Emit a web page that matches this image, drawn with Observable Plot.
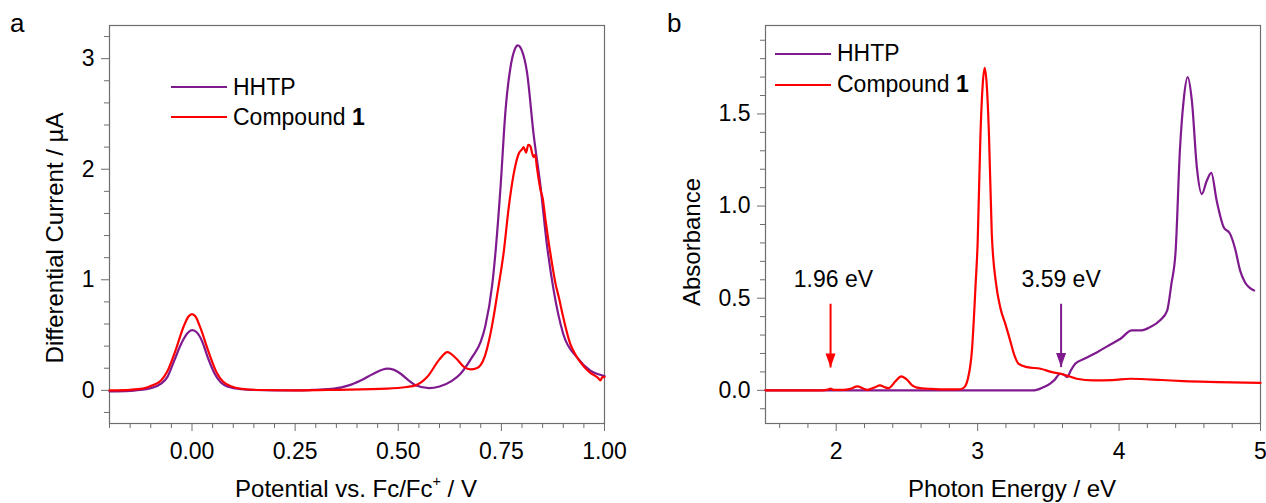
<!DOCTYPE html>
<html>
<head>
<meta charset="utf-8">
<script src="https://cdn.jsdelivr.net/npm/d3@7"></script>
<script src="https://cdn.jsdelivr.net/npm/@observablehq/plot@0.6"></script>
<style>
  body { margin: 0; background: #fff; font-family: "Liberation Sans", Arial, sans-serif; }
  #wrap { position: relative; width: 1266px; height: 503px; overflow: hidden; background: #fff; }
  .abs { position: absolute; white-space: nowrap; color: #000; }
  .panel { position: absolute; top: 0; }
  .title { font-size: 24px; line-height: 24px; }
  .ytitle { transform: translate(-50%, -50%) rotate(-90deg); }
  .xtitle { transform: translateX(-50%); }
  .plabel { font-size: 26px; line-height: 26px; }
  .leg { font-size: 23px; }
  .row { display: flex; align-items: center; height: 30px; }
  .swatch { display: inline-block; width: 56px; height: 2px; margin-right: 6px; }
  sup { font-size: 60%; vertical-align: 0; position: relative; top: -0.75em; }
</style>
</head>
<body>
<div id="wrap"></div>
<script>
// ---------- Panel a: differential pulse voltammetry ----------
const cvPotentialHHTP = [-0.20,-0.15,-0.12,-0.10,-0.075,-0.06,-0.043,-0.025,-0.01,0.00,0.01,0.025,0.038,0.055,0.07,0.09,0.12,0.15,0.20,0.264,0.30,0.344,0.38,0.409,0.44,0.473,0.49,0.506,0.525,0.542,0.574,0.60,0.63,0.651,0.679,0.70,0.711,0.728,0.736,0.748,0.76,0.772,0.782,0.79,0.80,0.812,0.828,0.845,0.86,0.877,0.90,0.933,0.965,1.00];
const cvCurrentHHTP   = [-0.01,-0.005,0.005,0.02,0.06,0.12,0.27,0.43,0.52,0.545,0.53,0.44,0.30,0.15,0.07,0.03,0.01,0.003,0.0,0.0,0.005,0.015,0.045,0.09,0.15,0.196,0.185,0.15,0.09,0.045,0.02,0.035,0.085,0.15,0.30,0.44,0.58,0.96,1.26,1.84,2.53,2.92,3.08,3.12,3.07,2.88,2.32,1.84,1.33,0.90,0.51,0.30,0.18,0.13];

const cvPotential1 = [-0.20,-0.15,-0.12,-0.10,-0.075,-0.06,-0.04,-0.02,-0.008,0.00,0.008,0.02,0.04,0.06,0.075,0.10,0.13,0.17,0.25,0.35,0.473,0.52,0.542,0.57,0.60,0.619,0.64,0.66,0.675,0.69,0.70,0.71,0.72,0.73,0.74,0.756,0.768,0.78,0.792,0.80,0.804,0.81,0.815,0.82,0.825,0.828,0.832,0.836,0.845,0.85,0.857,0.865,0.873,0.881,0.89,0.90,0.917,0.93,0.949,0.965,0.985,0.99,0.995,1.00];
const cvCurrent1   = [0.0,0.005,0.015,0.04,0.09,0.17,0.36,0.58,0.67,0.69,0.67,0.57,0.35,0.16,0.08,0.03,0.01,0.003,0.0,0.005,0.015,0.03,0.045,0.12,0.28,0.346,0.29,0.21,0.19,0.20,0.23,0.31,0.45,0.64,0.87,1.26,1.66,1.96,2.14,2.18,2.20,2.15,2.22,2.21,2.14,2.11,2.13,2.02,1.81,1.74,1.54,1.33,1.14,0.97,0.83,0.66,0.42,0.32,0.22,0.16,0.11,0.09,0.12,0.12];

const cvMajorX = [0, 0.25, 0.5, 0.75, 1.0];
const cvMinorX = [-0.2,-0.15,-0.1,-0.05,0.05,0.1,0.15,0.2,0.3,0.35,0.4,0.45,0.55,0.6,0.65,0.7,0.8,0.85,0.9,0.95];
const cvMajorY = [0, 1, 2, 3];
const cvMinorY = [-0.2,0.2,0.4,0.6,0.8,1.2,1.4,1.6,1.8,2.2,2.4,2.6,2.8,3.2];

// ---------- Panel b: UV-vis absorbance ----------
const uvEnergyHHTP = [1.5,3.40,3.468,3.51,3.54,3.586,3.61,3.633,3.66,3.69,3.75,3.845,3.93,4.01,4.09,4.16,4.22,4.29,4.34,4.37,4.40,4.43,4.456,4.485,4.515,4.55,4.585,4.62,4.652,4.69,4.74,4.785,4.82,4.856,4.89,4.955];
const uvAbsHHTP    = [0.0,0.0,0.018,0.035,0.054,0.09,0.085,0.072,0.11,0.144,0.17,0.207,0.245,0.28,0.325,0.325,0.343,0.38,0.433,0.578,0.758,1.30,1.57,1.70,1.57,1.21,1.065,1.137,1.18,1.03,0.885,0.849,0.77,0.65,0.587,0.542];

const uvEnergy1 = [1.5,1.90,1.94,1.96,1.98,2.05,2.10,2.15,2.19,2.22,2.27,2.31,2.34,2.37,2.42,2.46,2.50,2.54,2.57,2.67,2.80,2.88,2.91,2.93,2.96,2.986,3.00,3.02,3.035,3.05,3.065,3.08,3.10,3.13,3.16,3.20,3.23,3.26,3.29,3.35,3.445,3.52,3.586,3.65,3.70,3.82,3.95,4.08,4.30,4.456,4.70,5.0];
const uvAbs1    = [0.0,0.0,0.004,0.009,0.003,0.002,0.008,0.022,0.01,0.003,0.015,0.027,0.018,0.012,0.05,0.076,0.058,0.025,0.015,0.008,0.005,0.006,0.02,0.06,0.22,0.58,0.80,1.39,1.65,1.75,1.65,1.39,0.85,0.58,0.45,0.35,0.27,0.19,0.144,0.126,0.117,0.10,0.09,0.075,0.063,0.054,0.055,0.063,0.056,0.05,0.045,0.04];

const uvMajorX = [2, 3, 4, 5];
const uvMinorX = [1.6,1.8,2.2,2.4,2.6,2.8,3.2,3.4,3.6,3.8,4.2,4.4,4.6,4.8];
const uvMajorY = [0, 0.5, 1.0, 1.5];
const uvMinorY = [-0.1,0.1,0.2,0.3,0.4,0.6,0.7,0.8,0.9,1.1,1.2,1.3,1.4,1.6,1.7,1.8,1.9];

// annotations (panel b)
const annLabels = ["1.96 eV", "3.59 eV"];
const annLabelX = [1.98, 3.59];
const annLabelY = [0.563, 0.563];
const arrowX    = [1.96, 3.59];
const arrowTop  = [0.47, 0.47];
const arrowTip  = [0.124, 0.126];

const seriesNames = ["HHTP", "Compound"];
const purple = "#7f1a8e";
const red = "#ff0000";
const axisCol = "#6e6e6e";

const baseStyle = {background: "transparent", fontFamily: "'Liberation Sans', Arial, sans-serif", fontSize: "23px", color: "black", overflow: "visible"};

function axesMarks(majX, minX, majY, minY, fx, fy) {
  return [
    Plot.axisX(minX, {tickSize: 5, tickFormat: () => "", stroke: axisCol, label: null}),
    Plot.axisX(majX, {tickSize: 8, tickPadding: 11, tickFormat: fx, stroke: axisCol, fill: "black", fontSize: 23, label: null}),
    Plot.axisY(minY, {tickSize: 5, tickFormat: () => "", stroke: axisCol, label: null}),
    Plot.axisY(majY, {tickSize: 8, tickPadding: 7, tickFormat: fy, stroke: axisCol, fill: "black", fontSize: 23, label: null}),
    Plot.frame({stroke: axisCol, strokeWidth: 1.2})
  ];
}

const plotA = Plot.plot({
  width: 640, height: 503,
  marginLeft: 109, marginRight: 36, marginTop: 25, marginBottom: 80,
  x: {domain: [-0.2, 1.0]},
  y: {domain: [-0.3, 3.3]},
  style: baseStyle,
  marks: [
    ...axesMarks(cvMajorX, cvMinorX, cvMajorY, cvMinorY, d3.format(".2f"), d3.format("d")),
    Plot.line(cvPotentialHHTP, {x: cvPotentialHHTP, y: cvCurrentHHTP, stroke: purple, strokeWidth: 2.2, curve: "monotone-x"}),
    Plot.line(cvPotential1, {x: cvPotential1, y: cvCurrent1, stroke: red, strokeWidth: 2.2, curve: "monotone-x"})
  ]
});

const arrowHead = {draw(ctx) { ctx.moveTo(0, 0); ctx.lineTo(-5, -14); ctx.lineTo(5, -14); ctx.closePath(); }};
const arrowCols = [red, purple];
const arrowMarks = arrowX.flatMap((ax, i) => [
  Plot.link([ax], {x1: [ax], x2: [ax], y1: [arrowTop[i]], y2: [arrowTip[i]], stroke: arrowCols[i], strokeWidth: 2}),
  Plot.dot([ax], {x: [ax], y: [arrowTip[i]], symbol: arrowHead, fill: arrowCols[i], stroke: "none", r: 5})
]);

const plotB = Plot.plot({
  width: 626, height: 503,
  marginLeft: 125, marginRight: 6, marginTop: 25, marginBottom: 80,
  x: {domain: [1.5, 5]},
  y: {domain: [-0.18, 1.98]},
  style: baseStyle,
  marks: [
    ...axesMarks(uvMajorX, uvMinorX, uvMajorY, uvMinorY, d3.format("d"), d3.format(".1f")),
    Plot.line(uvEnergyHHTP, {x: uvEnergyHHTP, y: uvAbsHHTP, stroke: purple, strokeWidth: 2.2, curve: "monotone-x"}),
    Plot.line(uvEnergy1, {x: uvEnergy1, y: uvAbs1, stroke: red, strokeWidth: 2.2, curve: "monotone-x"}),
    ...arrowMarks,
    Plot.text(annLabels, {x: annLabelX, y: annLabelY, text: annLabels, fontSize: 23, fill: "black", lineAnchor: "bottom", textAnchor: "middle"})
  ]
});

const wrap = document.getElementById("wrap");
const pa = document.createElement("div"); pa.className = "panel"; pa.style.left = "0px"; pa.appendChild(plotA); wrap.appendChild(pa);
const pb = document.createElement("div"); pb.className = "panel"; pb.style.left = "640px"; pb.appendChild(plotB); wrap.appendChild(pb);

function addHTML(html) { wrap.insertAdjacentHTML("beforeend", html); }

// panel labels
addHTML(`<div class="abs plabel" style="left:10px;top:10px">a</div>`);
addHTML(`<div class="abs plabel" style="left:667px;top:10px">b</div>`);

// axis titles
addHTML(`<div class="abs title xtitle" style="left:356px;top:477px">Potential vs. Fc/Fc<sup>+</sup> / V</div>`);
addHTML(`<div class="abs title ytitle" style="left:55px;top:238px">Differential Current / µA</div>`);
addHTML(`<div class="abs title xtitle" style="left:1012px;top:477px">Photon Energy / eV</div>`);
addHTML(`<div class="abs title ytitle" style="left:692px;top:242px">Absorbance</div>`);

// legends
function legend(left, top, gap) {
  return `<div class="abs leg" style="left:${left}px;top:${top}px">
    <div class="row" style="height:${gap}px"><span class="swatch" style="background:${purple}"></span>${seriesNames[0]}</div>
    <div class="row" style="height:${gap}px"><span class="swatch" style="background:${red}"></span>${seriesNames[1]}&nbsp;<b>1</b></div>
  </div>`;
}
addHTML(legend(171, 72, 30));
addHTML(legend(775, 38, 31));
</script>
</body>
</html>
